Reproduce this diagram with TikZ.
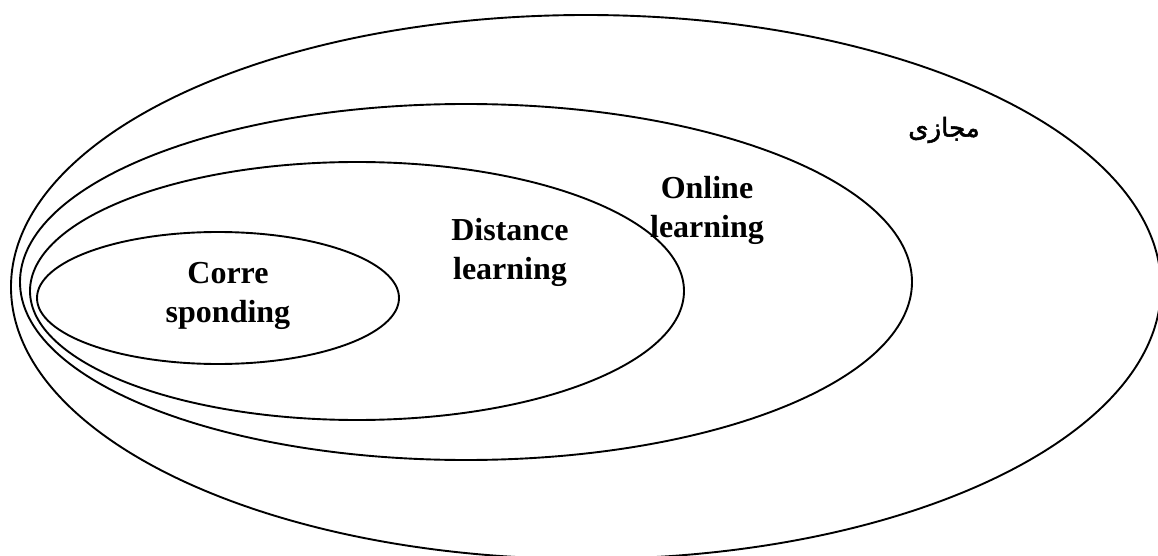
\documentclass[tikz,border=0pt]{standalone}
\usepackage{fontspec}
\setmainfont{Liberation Serif}
\newfontfamily\arabicfont[Script=Arabic, FakeBold=2]{DejaVu Sans}
\TeXXeTstate=1
\usetikzlibrary{positioning,
                shapes.geometric
            }

\begin{document}
\begin{tikzpicture}[x=0.5pt, y=-0.5pt,
                ring/.style={draw, ellipse, line width=0.95pt, inner sep=0pt},
                tag/.style={font=\bfseries\fontsize{16}{19.5}\selectfont, align=center, inner sep=0pt}]
                \useasboundingbox (0,0) rectangle (1158,556);
                \clip (0,0) rectangle (1158,556);

                % Nested ellipses
                \node (virtual)  [ring, minimum width=575pt, minimum height=272pt] at (586,287) {};
                \node (online)   [ring, minimum width=446pt, minimum height=178pt] at (466,282) {};
                \node (distance) [ring, minimum width=327pt, minimum height=129pt] at (357,291) {};
                \node (corre)    [ring, minimum width=181pt, minimum height=66pt] at (218,298) {};

                % Labels
                \node (correText)    [tag] at (228,296) {Corre\\sponding};
                \node (distanceText) [tag] at (510,252) {Distance\\learning};
                \node (onlineText)   [tag] at (707,210) {Online\\learning};
                \node (virtualText)  [inner sep=0pt, font=\arabicfont\fontsize{13}{15}\selectfont] at (944,130) {\beginR مجازی\endR};
            \end{tikzpicture}
\end{document}
